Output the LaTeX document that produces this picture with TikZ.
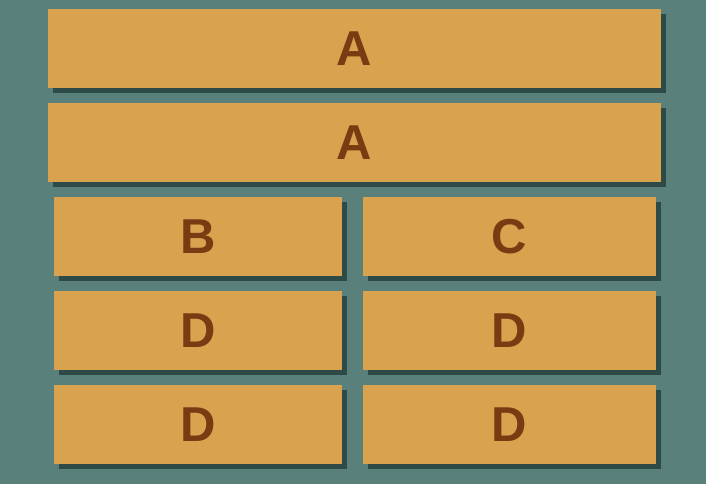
\documentclass[tikz,border=0pt]{standalone}
\usepackage{fontspec}
\setmainfont{Liberation Sans}
\usetikzlibrary{shadows}
\definecolor{bgc}{HTML}{5A807C}
\definecolor{boxc}{HTML}{D9A24F}
\definecolor{shc}{HTML}{2E4A46}
\definecolor{txc}{HTML}{7A3B12}
\tikzset{
  cell/.style={fill=boxc, draw=none, inner sep=0pt, text=txc,
    font=\fontsize{49}{49}\selectfont\bfseries, minimum height=79pt,
    general shadow={fill=shc, shadow xshift=5pt, shadow yshift=-5pt}},
  wide/.style={cell, minimum width=613pt},
  leftc/.style={cell, minimum width=288pt},
  rightc/.style={cell, minimum width=293pt}
}
\begin{document}
\begin{tikzpicture}[x=1pt,y=1pt]
\fill[bgc] (0,0) rectangle (706,484);
\useasboundingbox (0,0) rectangle (706,484);
\node[wide] (a1) at (354.5,435.5) {A};
\node[wide] (a2) at (354.5,341.5) {A};
\node[leftc] (b) at (198,247.5) {B};
\node[rightc] (c) at (509.5,247.5) {C};
\node[leftc] (d1) at (198,153.5) {D};
\node[rightc] (d2) at (509.5,153.5) {D};
\node[leftc] (d3) at (198,59.5) {D};
\node[rightc] (d4) at (509.5,59.5) {D};
\end{tikzpicture}
\end{document}
